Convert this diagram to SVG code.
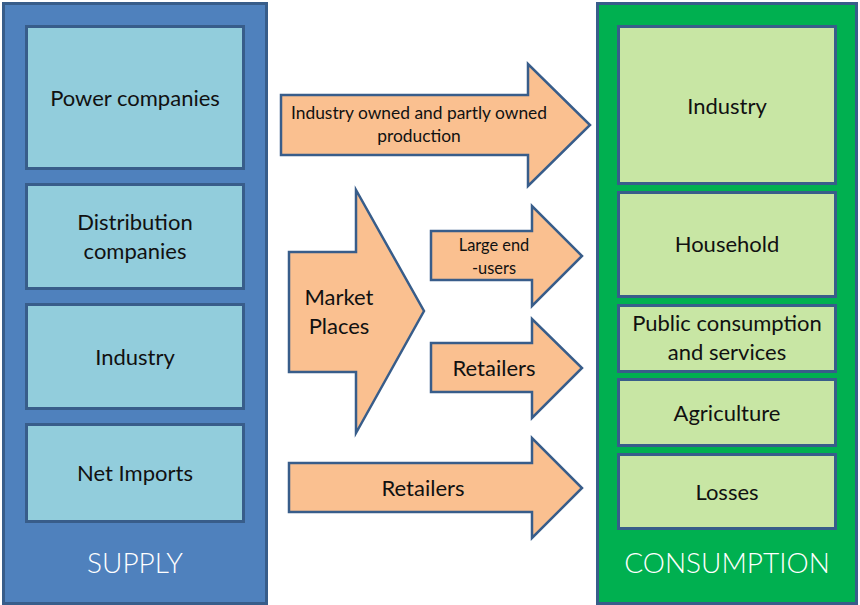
<svg xmlns="http://www.w3.org/2000/svg" width="860" height="605" viewBox="0 0 860 605">
<style>
text{font-family:Lato,"Open Sans","Liberation Sans",sans-serif;fill:#111;text-anchor:middle;dominant-baseline:central}
.blue{fill:#92CDDC;stroke:#385D8A;stroke-width:3}
.green{fill:#C8E6A4;stroke:#385D8A;stroke-width:3}
.arr{fill:#FAC090;stroke:#385D8A;stroke-width:2.5;stroke-linejoin:miter}
.lg{font-size:22px}
.md{font-size:17.4px}
.sm{font-size:16.4px}
.title{font-size:28px;fill:#fff;font-weight:300}
</style>
<rect width="860" height="605" fill="#fff"/>
<g id="supply">
<rect x="3.5" y="3.5" width="263" height="600" fill="#4F81BD" stroke="#385D8A" stroke-width="3"/>
<text class="title" x="135" y="562">SUPPLY</text>
</g>
<g id="power-companies"><rect class="blue" x="26.5" y="26.5" width="217" height="142"/><text class="lg" x="135" y="97">Power companies</text></g>
<g id="distribution-companies"><rect class="blue" x="26.5" y="184.5" width="217" height="104"/><text class="lg" x="135" y="221">Distribution</text><text class="lg" x="135" y="250">companies</text></g>
<g id="supply-industry"><rect class="blue" x="26.5" y="304.5" width="217" height="104"/><text class="lg" x="135" y="356">Industry</text></g>
<g id="net-imports"><rect class="blue" x="26.5" y="424.5" width="217" height="97"/><text class="lg" x="135" y="472">Net Imports</text></g>

<g id="consumption">
<rect x="597.5" y="3.5" width="259" height="600" fill="#00B050" stroke="#385D8A" stroke-width="3"/>
<text class="title" x="727" y="562">CONSUMPTION</text>
</g>
<g id="cons-industry"><rect class="green" x="618.5" y="26.5" width="217" height="157"/><text class="lg" x="727" y="105">Industry</text></g>
<g id="household"><rect class="green" x="618.5" y="192.5" width="217" height="104"/><text class="lg" x="727" y="243">Household</text></g>
<g id="public"><rect class="green" x="618.5" y="305.5" width="217" height="66"/><text class="lg" x="727" y="322">Public consumption</text><text class="lg" x="727" y="351">and services</text></g>
<g id="agriculture"><rect class="green" x="618.5" y="379.5" width="217" height="66"/><text class="lg" x="727" y="412">Agriculture</text></g>
<g id="losses"><rect class="green" x="618.5" y="454.5" width="217" height="74"/><text class="lg" x="727" y="491">Losses</text></g>

<g id="connectors">
<g id="arrow-industry-owned"><polygon class="arr" points="281,95 528,95 528,64 590,125 528,186 528,155 281,155"/><text class="md" x="419" y="112">Industry owned and partly owned</text><text class="md" x="419" y="135">production</text></g>
<g id="arrow-market"><polygon class="arr" points="289,252 356,252 356,190 424,311 356,433 356,372 289,372"/><text class="lg" x="339" y="296">Market</text><text class="lg" x="339" y="325">Places</text></g>
<g id="arrow-large-end"><polygon class="arr" points="431,231 532,231 532,206 582,256 532,306 532,280 431,280"/><text class="sm" x="494" y="244">Large end</text><text class="sm" x="494" y="267">-users</text></g>
<g id="arrow-retailers-1"><polygon class="arr" points="431,343 532,343 532,319 582,368 532,418 532,392 431,392"/><text class="lg" x="494" y="367">Retailers</text></g>
<g id="arrow-retailers-2"><polygon class="arr" points="289,463 532,463 532,438 582,488 532,538 532,512 289,512"/><text class="lg" x="423" y="487">Retailers</text></g>
</g>
</svg>
